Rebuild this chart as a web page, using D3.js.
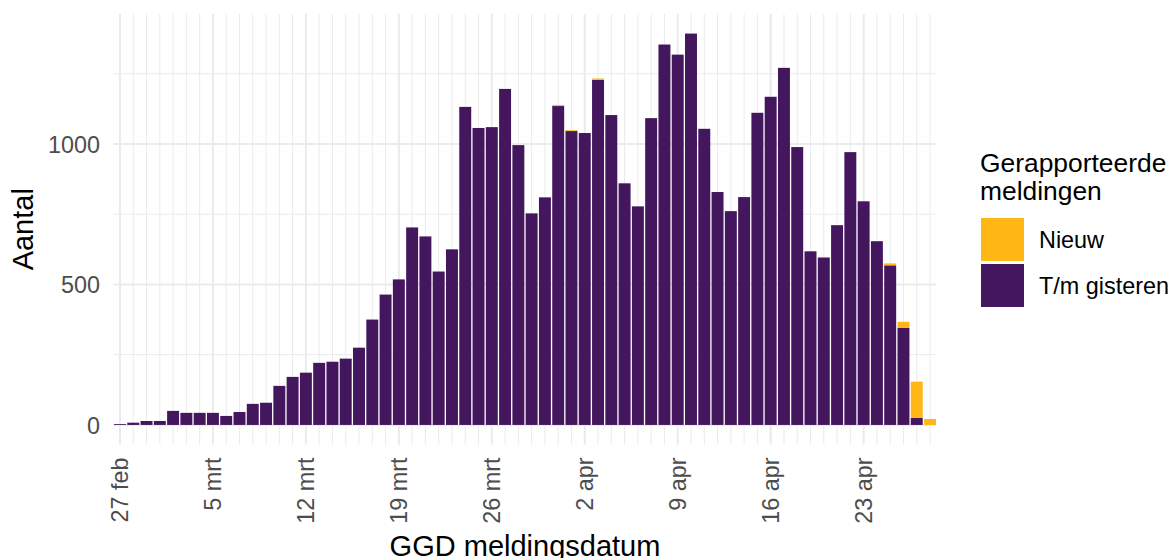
<!DOCTYPE html>
<html lang="nl">
<head>
<meta charset="UTF-8">
<title>GGD meldingen</title>
<script src="https://d3js.org/d3.v7.min.js"></script>
<style>
  body { margin: 0; background: #fff; }
  text { font-family: "Liberation Sans", Arial, sans-serif; }
</style>
</head>
<body>
<script>
// datums (27 feb t/m 28 apr)
const dates = [
  "2020-02-27","2020-02-28","2020-02-29","2020-03-01","2020-03-02","2020-03-03","2020-03-04",
  "2020-03-05","2020-03-06","2020-03-07","2020-03-08","2020-03-09","2020-03-10","2020-03-11",
  "2020-03-12","2020-03-13","2020-03-14","2020-03-15","2020-03-16","2020-03-17","2020-03-18",
  "2020-03-19","2020-03-20","2020-03-21","2020-03-22","2020-03-23","2020-03-24","2020-03-25",
  "2020-03-26","2020-03-27","2020-03-28","2020-03-29","2020-03-30","2020-03-31","2020-04-01",
  "2020-04-02","2020-04-03","2020-04-04","2020-04-05","2020-04-06","2020-04-07","2020-04-08",
  "2020-04-09","2020-04-10","2020-04-11","2020-04-12","2020-04-13","2020-04-14","2020-04-15",
  "2020-04-16","2020-04-17","2020-04-18","2020-04-19","2020-04-20","2020-04-21","2020-04-22",
  "2020-04-23","2020-04-24","2020-04-25","2020-04-26","2020-04-27","2020-04-28"
];
// T/m gisteren
const gisteren = [
  3, 8, 14, 14, 50, 43, 43,
  43, 32, 46, 75, 79, 139, 171,
  186, 221, 225, 236, 275, 375, 464,
  518, 703, 671, 546, 625, 1132, 1057,
  1060, 1196, 996, 753, 810, 1135, 1046,
  1039, 1228, 1103, 860, 778, 1092, 1354,
  1318, 1393, 1054, 829, 761, 811, 1111,
  1168, 1271, 989, 618, 596, 711, 971,
  796, 654, 568, 346, 25, 0
];
// Nieuw
const nieuw = [
  0, 0, 0, 0, 0, 0, 0,
  0, 0, 0, 0, 0, 0, 0,
  0, 0, 0, 0, 0, 0, 0,
  0, 0, 0, 0, 0, 0, 0,
  0, 0, 0, 0, 0, 4, 3,
  0, 5, 0, 0, 0, 0, 0,
  0, 0, 0, 0, 0, 0, 0,
  0, 0, 0, 0, 0, 0, 0,
  0, 0, 7, 21, 129, 21
];
const tickDates = ["2020-02-27","2020-03-05","2020-03-12","2020-03-19","2020-03-26","2020-04-02","2020-04-09","2020-04-16","2020-04-23"];
const tickLabels = ["27 feb","5 mrt","12 mrt","19 mrt","26 mrt","2 apr","9 apr","16 apr","23 apr"];
const yTicks = [0, 500, 1000];
const yMinor = [250, 750, 1250];
const seriesNames = ["Nieuw", "T/m gisteren"];
const colors = { "Nieuw": "#feb714", "T/m gisteren": "#43165e" };

const width = 1174, height = 558;
const panel = { left: 114, right: 936, top: 14, bottom: 444.5 };

const svg = d3.select("body").append("svg")
  .attr("width", width).attr("height", height);

const rows = dates.map((d, i) => ({ date: d, gisteren: gisteren[i], nieuw: nieuw[i] }));
const stack = d3.stack().keys(["gisteren", "nieuw"])(rows);

const x = d3.scaleBand().domain(dates)
  .range([panel.left, panel.right]).paddingInner(0.1).paddingOuter(0);

const maxTot = d3.max(rows, d => d.gisteren + d.nieuw);
const pad = maxTot * 0.05;
const y = d3.scaleLinear().domain([-pad, maxTot + pad]).range([panel.bottom, panel.top]);

const cx = d => x(d) + x.bandwidth() / 2;

// rasterlijnen
const grid = svg.append("g");
grid.selectAll(".vmin").data(dates).join("line")
  .attr("x1", cx).attr("x2", cx).attr("y1", panel.top).attr("y2", panel.bottom)
  .attr("stroke", "#ebebeb").attr("stroke-width", 1);
grid.selectAll(".hmin").data(yMinor).join("line")
  .attr("x1", panel.left - 0.5).attr("x2", panel.right).attr("y1", y).attr("y2", y)
  .attr("stroke", "#ebebeb").attr("stroke-width", 1);
grid.selectAll(".vmaj").data(tickDates).join("line")
  .attr("x1", cx).attr("x2", cx).attr("y1", panel.top).attr("y2", panel.bottom)
  .attr("stroke", "#ebebeb").attr("stroke-width", 2);
grid.selectAll(".hmaj").data(yTicks).join("line")
  .attr("x1", panel.left - 0.5).attr("x2", panel.right).attr("y1", y).attr("y2", y)
  .attr("stroke", "#ebebeb").attr("stroke-width", 2);

// staven
const layerColor = { gisteren: colors["T/m gisteren"], nieuw: colors["Nieuw"] };
svg.append("g").selectAll("g").data(stack).join("g")
  .attr("fill", s => layerColor[s.key])
  .selectAll("rect").data(s => s).join("rect")
  .attr("x", d => x(d.data.date))
  .attr("width", x.bandwidth())
  .attr("y", d => y(d[1]))
  .attr("height", d => Math.max(0, y(d[0]) - y(d[1])));

// y-as
const yAxis = svg.append("g")
  .attr("transform", `translate(${panel.left - 14},0)`)
  .call(d3.axisLeft(y).tickValues(yTicks).tickFormat(d3.format("d")).tickSize(0).tickPadding(0));
yAxis.select(".domain").remove();
yAxis.selectAll("text")
  .attr("fill", "#4d4d4d").style("font-size", "23.4px")
  .attr("dy", "0.36em");

// x-as
const xAxis = svg.append("g")
  .attr("transform", `translate(0,${panel.bottom + 13})`)
  .call(d3.axisBottom(x).tickValues(tickDates)
    .tickFormat((d, i) => tickLabels[i]).tickSize(0).tickPadding(0));
xAxis.select(".domain").remove();
xAxis.selectAll("text")
  .attr("fill", "#4d4d4d").style("font-size", "23.4px")
  .attr("text-anchor", "end")
  .attr("transform", "rotate(-90)")
  .attr("x", 0).attr("y", 0).attr("dy", "0.36em");

// as-titels
svg.append("text")
  .attr("x", (panel.left + panel.right) / 2).attr("y", 556)
  .attr("text-anchor", "middle").style("font-size", "29px").attr("fill", "#000")
  .text("GGD meldingsdatum");
svg.append("text")
  .attr("transform", `translate(33,${(panel.top + panel.bottom) / 2}) rotate(-90)`)
  .attr("text-anchor", "middle").style("font-size", "29px").attr("fill", "#000")
  .text("Aantal");

// legenda
const leg = svg.append("g").attr("transform", "translate(980,0)");
leg.append("text").attr("x", 0).attr("y", 172).style("font-size", "26.4px").text("Gerapporteerde");
leg.append("text").attr("x", 0).attr("y", 200).style("font-size", "26.4px").text("meldingen");
const items = leg.selectAll(".item").data(seriesNames).join("g")
  .attr("transform", (d, i) => `translate(1,${218 + i * 46})`);
items.append("rect").attr("width", 43).attr("height", 43).attr("fill", d => colors[d]);
items.append("text").attr("x", 58).attr("y", 21.5).attr("dy", "0.36em")
  .style("font-size", "23.4px").attr("fill", "#000").text(d => d);
</script>
</body>
</html>
